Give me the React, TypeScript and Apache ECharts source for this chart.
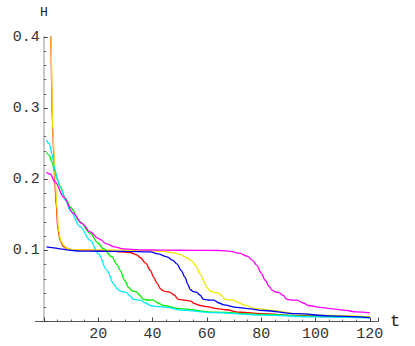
import React, { useEffect, useRef } from "react";
import * as echarts from "echarts";

// ---- data ----
const redT = [1, 2, 2.5, 3.2, 4.0, 4.6, 5.2, 6.1, 7.1, 8.3, 10.1, 15, 20, 25, 28, 31.8, 34, 35.5, 37.5, 39.2, 40.5, 41.6, 43, 44, 45, 46.5, 48, 49.6, 51, 53.9, 55.5, 57.6, 60, 63.7, 67, 72.3, 80, 93, 105, 120];
const redH = [1.2, 0.55, 0.41, 0.275, 0.2, 0.162, 0.129, 0.113, 0.106, 0.103, 0.101, 0.1005, 0.1, 0.0995, 0.098, 0.097, 0.094, 0.09, 0.082, 0.072, 0.062, 0.054, 0.046, 0.043, 0.042, 0.041, 0.037, 0.031, 0.0305, 0.029, 0.025, 0.0225, 0.021, 0.018, 0.0165, 0.013, 0.011, 0.0085, 0.007, 0.006];

const yellowT = [1, 2, 2.6, 3.3, 4.2, 4.8, 5.4, 6.3, 7.3, 8.5, 10.3, 15, 25, 35, 44, 48, 50.2, 52.5, 54.5, 56, 57.6, 59, 60, 61.2, 62.5, 64.3, 65.5, 66.8, 69.8, 71.5, 73.5, 78.4, 83.3, 93, 105, 120];
const yellowH = [1.3, 0.6, 0.4, 0.27, 0.199, 0.161, 0.128, 0.113, 0.107, 0.103, 0.101, 0.1008, 0.1005, 0.1, 0.0985, 0.0965, 0.094, 0.09, 0.085, 0.078, 0.067, 0.056, 0.048, 0.043, 0.041, 0.04, 0.036, 0.031, 0.03, 0.027, 0.0235, 0.018, 0.016, 0.011, 0.0085, 0.0065];

const greenT = [1, 2, 3, 4, 5, 6, 8, 9.7, 13.4, 17.1, 20, 22, 25, 27, 28.1, 29.7, 31.2, 32.5, 34, 35.2, 36.7, 38.5, 40.4, 42, 44, 50.2, 62.5, 80.9, 100, 120];
const greenH = [0.238, 0.234, 0.224, 0.212, 0.199, 0.19, 0.173, 0.161, 0.14, 0.124, 0.11, 0.102, 0.091, 0.08, 0.072, 0.058, 0.048, 0.043, 0.042, 0.037, 0.031, 0.0302, 0.03, 0.026, 0.0225, 0.018, 0.013, 0.01, 0.0075, 0.0055];

const cyanT = [1, 2, 3, 4, 5, 6, 8, 9.7, 13.4, 17.1, 20.1, 23.2, 25.7, 27, 28.1, 29.2, 30.3, 31.7, 33, 35.5, 37.5, 39.2, 42, 45.3, 50.2, 62.5, 80.9, 100, 120];
const cyanH = [0.255, 0.25, 0.236, 0.215, 0.2, 0.189, 0.17, 0.156, 0.133, 0.114, 0.095, 0.072, 0.053, 0.046, 0.043, 0.042, 0.041, 0.036, 0.031, 0.03, 0.026, 0.0225, 0.021, 0.02, 0.016, 0.0125, 0.009, 0.0065, 0.005];

const blueT = [1, 3, 6, 10, 13.4, 20, 30, 39.2, 42, 45.3, 47.5, 49, 50.5, 52, 53, 53.9, 55, 56.3, 57.5, 58.8, 60.5, 62.5, 64.5, 66.2, 71, 75, 80.9, 93, 105, 120];
const blueH = [0.105, 0.104, 0.102, 0.1, 0.099, 0.0988, 0.0985, 0.098, 0.095, 0.091, 0.086, 0.081, 0.072, 0.062, 0.052, 0.045, 0.042, 0.041, 0.037, 0.031, 0.0302, 0.03, 0.026, 0.0235, 0.02, 0.018, 0.0155, 0.011, 0.008, 0.0055];

const magentaT = [1, 2.4, 4.2, 7.3, 10.9, 14, 17.1, 20, 23.2, 26, 29.3, 35, 45, 55, 65, 68.6, 72, 74.8, 76.8, 78.4, 80, 81.5, 83, 84, 85.2, 86.4, 88, 89.5, 91, 93.2, 95.5, 97.4, 101.7, 105.4, 110.3, 115, 120];
const magentaH = [0.21, 0.207, 0.196, 0.175, 0.152, 0.138, 0.126, 0.117, 0.109, 0.105, 0.102, 0.1008, 0.1003, 0.1, 0.0998, 0.0985, 0.096, 0.092, 0.086, 0.079, 0.068, 0.058, 0.049, 0.044, 0.0415, 0.041, 0.037, 0.031, 0.0302, 0.03, 0.026, 0.0225, 0.02, 0.018, 0.016, 0.0135, 0.012];

const curves = [
  { name: "red", color: "#ff0000", t: redT, h: redH },
  { name: "yellow", color: "#f2e600", t: yellowT, h: yellowH },
  { name: "green", color: "#00f000", t: greenT, h: greenH },
  { name: "cyan", color: "#00e8ff", t: cyanT, h: cyanH },
  { name: "blue", color: "#0000ff", t: blueT, h: blueH },
  { name: "magenta", color: "#ff00ff", t: magentaT, h: magentaH },
];

const X_MAX = 123;
const Y_MAX = 0.4;
const FONT = "'Liberation Mono', 'DejaVu Sans Mono', monospace";

export default function App() {
  const ref = useRef<HTMLDivElement>(null);
  useEffect(() => {
    if (!ref.current) return;
    const chart = echarts.init(ref.current, undefined, { renderer: "svg" });
    const gridLeft = 43.8;
    const gridBottom = 24.5;
    chart.setOption({
      animation: false,
      backgroundColor: "#ffffff",
      grid: { left: gridLeft, right: 37, top: 37, bottom: gridBottom, containLabel: false },
      xAxis: {
        type: "value",
        min: 0,
        max: X_MAX,
        interval: 20,
        name: "t",
        nameLocation: "end",
        nameGap: 12,
        nameTextStyle: { fontFamily: FONT, fontSize: 17, color: "#222", verticalAlign: "middle" },
        axisLine: { show: true, lineStyle: { color: "#555", width: 1 } },
        axisTick: { show: true, inside: true, length: 4, lineStyle: { color: "#444" } },
        minorTick: { show: true, splitNumber: 4, length: 2, lineStyle: { color: "#666" } },
        splitLine: { show: false },
        axisLabel: {
          fontFamily: FONT,
          fontSize: 15,
          color: "#333",
          margin: 5,
          formatter: (v: number) => (v === 0 ? "" : String(v)),
        },
      },
      yAxis: {
        type: "value",
        min: 0,
        max: Y_MAX,
        interval: 0.1,
        name: "H",
        nameLocation: "end",
        nameGap: 18,
        nameTextStyle: { fontFamily: FONT, fontSize: 13, color: "#222", align: "center" },
        axisLine: { show: true, onZero: false, lineStyle: { color: "#c8c8c8", width: 2 } },
        axisTick: { show: true, inside: true, length: 4, lineStyle: { color: "#444" } },
        minorTick: { show: true, splitNumber: 5, length: 2.5, lineStyle: { color: "#666" } },
        splitLine: { show: false },
        axisLabel: {
          fontFamily: FONT,
          fontSize: 15,
          color: "#333",
          margin: 4,
          formatter: (v: number) => (v === 0 ? "" : v.toFixed(1)),
        },
      },
      graphic: [
        {
          type: "line",
          shape: { x1: 35, y1: 346 - gridBottom, x2: gridLeft, y2: 346 - gridBottom },
          style: { stroke: "#555", lineWidth: 1 },
          silent: true,
        },
      ],
      series: curves.map((c) => ({
        type: "line",
        name: c.name,
        data: c.t.map((t, i) => [t, c.h[i]]),
        showSymbol: false,
        smooth: 0.35,
        smoothMonotone: "x",
        clip: true,
        lineStyle: { color: c.color, width: 1.3 },
        itemStyle: { color: c.color },
      })),
    });
    return () => chart.dispose();
  }, []);
  return (
    <div
      ref={ref}
      style={{ position: "absolute", left: 0, top: 0, width: 415, height: 346, background: "#fff" }}
    />
  );
}
